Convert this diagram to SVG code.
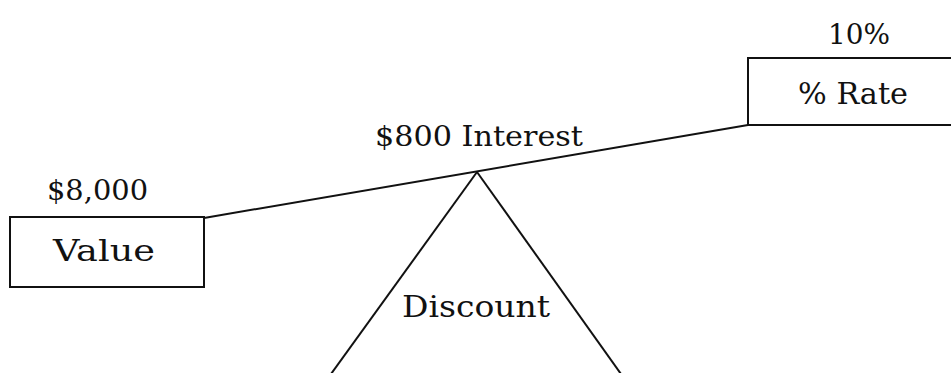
<svg xmlns="http://www.w3.org/2000/svg" width="951" height="373" viewBox="0 0 951 373">
  <style>
    .box { fill: #fff; stroke: #111; stroke-width: 2; }
    .ln { stroke: #111; stroke-width: 2; fill: none; }
    .t { font-family: "DejaVu Serif", "Liberation Serif", serif; fill: #111; text-anchor: start; }
    .big { font-size: 30px; }
    .num { font-size: 27px; }
  </style>
  <rect x="0" y="0" width="951" height="373" fill="#fff"/>
  <g id="connectors">
    <line class="ln" x1="204" y1="218" x2="748" y2="125"/>
    <line class="ln" x1="477" y1="172" x2="331" y2="374"/>
    <line class="ln" x1="477" y1="172" x2="621" y2="374"/>
  </g>
  <g id="value">
    <rect class="box" x="10" y="217" width="194" height="70"/>
    <text class="t big" x="53" y="261" textLength="102" lengthAdjust="spacingAndGlyphs">Value</text>
    <text class="t num" x="47" y="200" textLength="101" lengthAdjust="spacingAndGlyphs">$8,000</text>
  </g>
  <g id="rate">
    <rect class="box" x="748" y="58" width="220" height="67"/>
    <text class="t big" x="798" y="104" textLength="110" lengthAdjust="spacingAndGlyphs">% Rate</text>
    <text class="t num" x="828" y="44" textLength="62" lengthAdjust="spacingAndGlyphs">10%</text>
  </g>
  <g id="interest">
    <text class="t num" x="375" y="146" textLength="208" lengthAdjust="spacingAndGlyphs">$800 Interest</text>
  </g>
  <g id="discount">
    <text class="t big" x="402" y="317" textLength="148" lengthAdjust="spacingAndGlyphs">Discount</text>
  </g>
</svg>
